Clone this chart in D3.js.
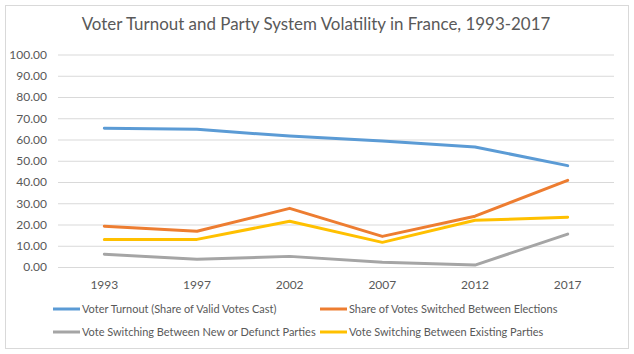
<!DOCTYPE html>
<html>
<head>
<meta charset="utf-8">
<script src="https://cdn.jsdelivr.net/npm/d3@7"></script>
<style>
  body { margin: 0; background: #fff; }
  text { font-family: Lato, "Open Sans", sans-serif; fill: #595959; }
  .grid line { stroke: #d9d9d9; stroke-width: 1; }
  .grid .domain { display: none; }
</style>
</head>
<body>
<div id="chart"></div>
<script>
// data
let years = ["1993", "1997", "2002", "2007", "2012", "2017"];
let turnout = [65.3, 64.8, 61.6, 59.3, 56.5, 47.7];
let switchedTotal = [19.2, 16.8, 27.6, 14.4, 23.9, 40.8];
let switchedNewDefunct = [6.0, 3.6, 5.0, 2.2, 0.9, 15.5];
let switchedExisting = [13.0, 13.0, 21.5, 11.6, 22.0, 23.4];
let yTicks = [0, 10, 20, 30, 40, 50, 60, 70, 80, 90, 100];

let seriesNames = [
  "Voter Turnout (Share of Valid Votes Cast)",
  "Share of Votes Switched Between Elections",
  "Vote Switching Between New or Defunct Parties",
  "Vote Switching Between Existing Parties"
];
let seriesValues = [turnout, switchedTotal, switchedNewDefunct, switchedExisting];
let colors = ["#5B9BD5", "#ED7D31", "#A5A5A5", "#FFC000"];

// Calibri isn't there, so shrink the font until a text is as wide as in the original
function fitSize(sel, startSize, target) {
  sel.style("font-size", startSize + "px");
  let w = sel.node().getComputedTextLength();
  return startSize * target / w;
}

function chart(width, height, selector) {

  let margin = { top: 54, left: 58, right: 20, bottom: 87 };
  let plotRight = 614;

  let svg = d3.select(selector)
    .append("svg")
    .attr("width", width)
    .attr("height", height);

  // outer border
  svg.append("rect")
    .attr("x", 5.5).attr("y", 5.5)
    .attr("width", 623).attr("height", 343)
    .attr("fill", "#fff")
    .attr("stroke", "#d9d9d9");

  let title = svg.append("text")
    .attr("x", 316)
    .attr("y", 30)
    .attr("text-anchor", "middle")
    .text("Voter Turnout and Party System Volatility in France, 1993-2017");
  title.style("font-size", fitSize(title, 18, 469) + "px");

  let xScale = d3.scaleBand()
    .domain(years)
    .range([margin.left, plotRight]);

  let yScale = d3.scaleLinear()
    .domain([0, 100])
    .range([267, 54.5]);

  // gridlines + y labels
  let yAxis = d3.axisLeft(yScale)
    .tickValues(yTicks)
    .tickSize(-(plotRight - margin.left))
    .tickPadding(11)
    .tickFormat(d3.format(".2f"));

  let gy = svg.append("g")
    .attr("class", "grid")
    .attr("transform", `translate(${margin.left},0)`)
    .call(yAxis);
  gy.selectAll("text")
    .style("font-size", "12px")
    .style("font-family", "Lato, 'Open Sans', sans-serif")
    .attr("fill", "#595959");

  // x labels
  let xAxis = d3.axisBottom(xScale).tickSize(0).tickPadding(13);
  let gx = svg.append("g")
    .attr("class", "grid")
    .attr("transform", "translate(0,267)")
    .call(xAxis);
  gx.selectAll("text")
    .style("font-size", "12px")
    .style("font-family", "Lato, 'Open Sans', sans-serif")
    .attr("fill", "#595959");

  let line = d3.line()
    .x((d, i) => xScale(years[i]) + xScale.bandwidth() / 2)
    .y(d => yScale(d));

  svg.append("g")
    .selectAll("path")
    .data(seriesValues)
    .join("path")
    .attr("d", d => line(d))
    .attr("fill", "none")
    .attr("stroke", (d, i) => colors[i])
    .attr("stroke-width", 3)
    .attr("stroke-linejoin", "round")
    .attr("stroke-linecap", "round");

  // legend, two columns
  let legendX = [53, 320];
  let legendY = [309, 332];

  let legend = svg.append("g")
    .selectAll("g")
    .data(seriesNames)
    .join("g")
    .attr("transform", (d, i) => `translate(${legendX[i % 2]},${legendY[Math.floor(i / 2)]})`);

  legend.append("line")
    .attr("x1", 0).attr("x2", 27)
    .attr("stroke", (d, i) => colors[i])
    .attr("stroke-width", 3);

  let legendText = legend.append("text")
    .attr("x", 29)
    .attr("dy", "0.35em")
    .text(d => d);

  let size = fitSize(legendText.filter((d, i) => i === 2), 12, 234);
  legendText.style("font-size", size + "px");
}

chart(634, 354, "#chart");
</script>
</body>
</html>
